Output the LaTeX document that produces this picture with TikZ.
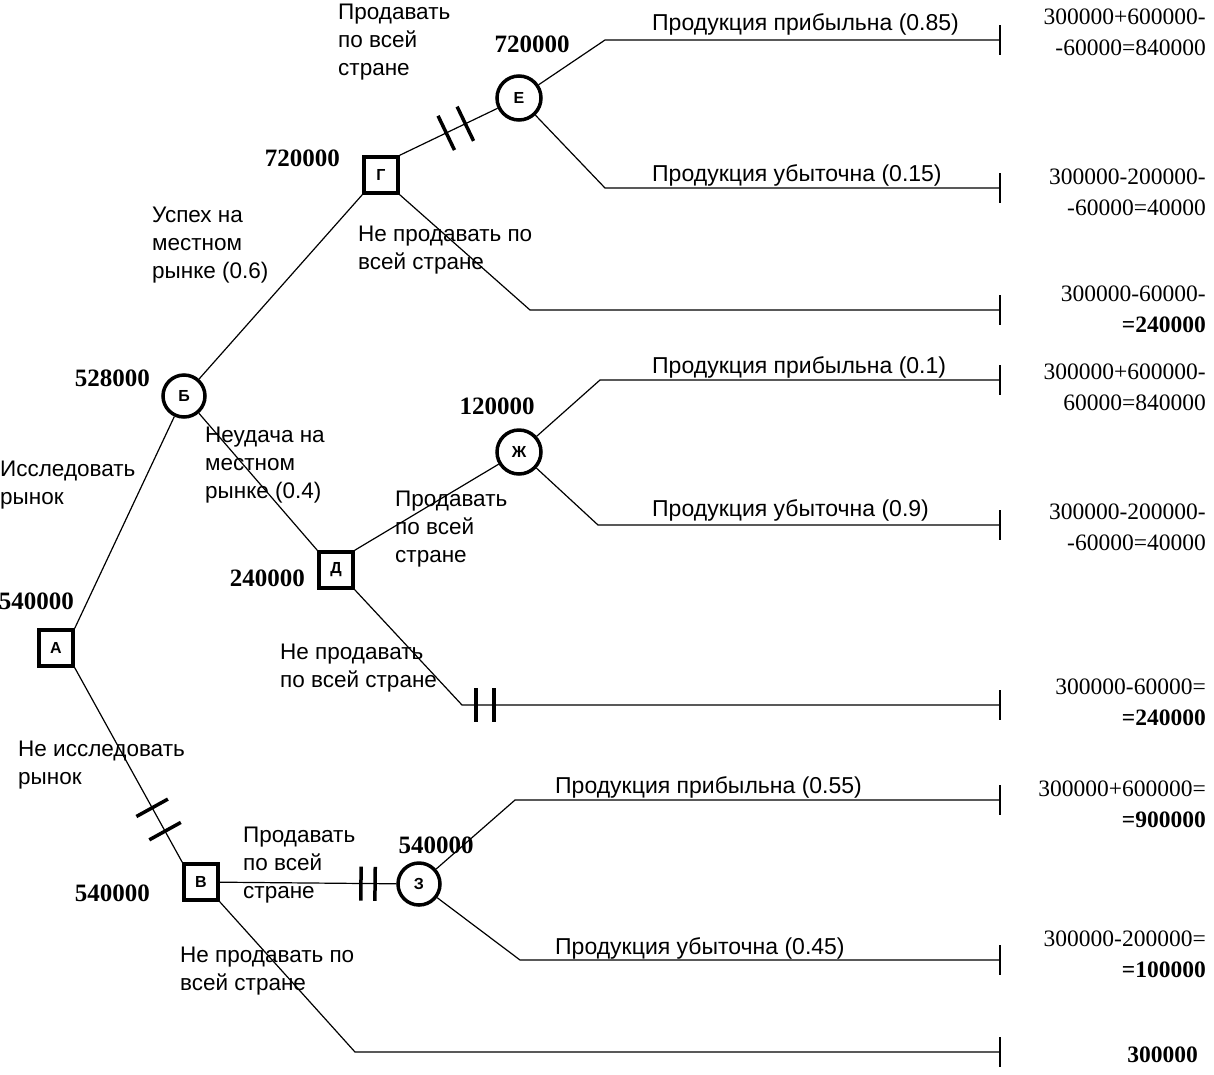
\documentclass[tikz,border=0pt]{standalone}
\usepackage{fontspec}
\setmainfont{Liberation Sans}
\newfontfamily\numfont{Liberation Serif}
\usetikzlibrary{calc}
\newcommand\brkmark[4]{%
  \path ($(#1)!#3!(#2)$) coordinate (bm);
  \draw[brk] ($(bm)!#4!90:(#2)$) -- ($(bm)!#4!-90:(#2)$);}
\begin{document}
\begin{tikzpicture}[x=1pt,y=-1pt,
  dec/.style={draw, line width=3.5pt, minimum width=34pt, minimum height=36pt, inner sep=0pt, font=\fontsize{16}{16}\selectfont\bfseries},
  chance/.style={draw, circle, line width=3.5pt, minimum size=42pt, inner sep=0pt, font=\fontsize{16}{16}\selectfont\bfseries},
  conn/.style={line width=1.2pt},
  brk/.style={line width=3.5pt},
  tick/.style={line width=1.8pt},
  lbl/.style={inner sep=0pt, align=left, font=\fontsize{22.5}{28}\selectfont},
  val/.style={inner sep=0pt, font=\numfont\bfseries\fontsize{25}{25}\selectfont},
  res/.style={inner sep=0pt, align=right, font=\numfont\fontsize{23.5}{31}\selectfont},
  outc/.style={inner sep=0pt, anchor=base west, font=\fontsize{23}{23}\selectfont}
]
\useasboundingbox (0,0) rectangle (1214,1074);

% decision and chance nodes
\node[dec] (nA) at (56,648) {А};
\node[chance] (nB) at (184,396) {Б};
\node[dec] (nG) at (381,175) {Г};
\node[chance, minimum size=44pt] (nE) at (519,98) {Е};
\node[dec] (nD) at (336,570) {Д};
\node[chance, minimum size=44pt] (nZh) at (519,452) {Ж};
\node[dec] (nV) at (201,882) {В};
\node[chance] (nZ) at (419,884) {З};

% bend and end coordinates
\coordinate (e1) at (605,40);   \coordinate (t1) at (1000,40);
\coordinate (e2) at (605,188);  \coordinate (t2) at (1000,188);
\coordinate (g3) at (530,310);  \coordinate (t3) at (1000,310);
\coordinate (z1) at (600,380);  \coordinate (t4) at (1000,380);
\coordinate (z2) at (598,525);  \coordinate (t5) at (1000,525);
\coordinate (d3) at (462,705);  \coordinate (t6) at (1000,705);
\coordinate (s1) at (515,800);  \coordinate (t7) at (1000,800);
\coordinate (s2) at (520,960);  \coordinate (t8) at (1000,960);
\coordinate (v3) at (355,1052); \coordinate (t9) at (1000,1052);

% connectors
\draw[conn] (nA.north east) -- (nB);
\draw[conn] (nB) -- (nG.south west);
\draw[conn] (nB) -- (nD.north west);
\draw[conn] (nG.north east) -- (nE);
\draw[conn] (nE) -- (e1) -- (t1);
\draw[conn] (nE) -- (e2) -- (t2);
\draw[conn] (nG.south east) -- (g3) -- (t3);
\draw[conn] (nD.north east) -- (nZh);
\draw[conn] (nZh) -- (z1) -- (t4);
\draw[conn] (nZh) -- (z2) -- (t5);
\draw[conn] (nD.south east) -- (d3) -- (t6);
\draw[conn] (nA.south east) -- (nV.north west);
\draw[conn] (nV) -- (nZ);
\draw[conn] (nZ) -- (s1) -- (t7);
\draw[conn] (nZ) -- (s2) -- (t8);
\draw[conn] (nV.south east) -- (v3) -- (t9);

% end ticks
\foreach \t in {t1,t2,t3,t4,t5,t6,t7,t8,t9}
  \draw[tick] ($(\t)+(0,-15)$) -- ($(\t)+(0,15)$);

% blocked-branch marks
\brkmark{nG.north east}{nE}{0.39}{19pt}
\brkmark{nG.north east}{nE}{0.55}{19pt}
\brkmark{nA.south east}{nV.north west}{0.72}{18pt}
\brkmark{nA.south east}{nV.north west}{0.84}{18pt}
\brkmark{nV.east}{nZ.west}{0.80}{17pt}
\brkmark{nV.east}{nZ.west}{0.88}{17pt}
\brkmark{d3}{t6}{14pt}{17pt}
\brkmark{d3}{t6}{32pt}{17pt}

% values at nodes
\node[val, anchor=east] (vA) at (74,601) {540000};
\node[val, anchor=east] (vB) at (150,378) {528000};
\node[val, anchor=east] (vG) at (340,158) {720000};
\node[val] (vE) at (532,44) {720000};
\node[val, anchor=east] (vD) at (305,578) {240000};
\node[val] (vZh) at (497,406) {120000};
\node[val, anchor=east] (vV) at (150,893) {540000};
\node[val] (vZ) at (436,845) {540000};

% branch labels
\node[lbl, anchor=north west] (l1) at (338,4) {Продавать\\по всей\\стране};
\node[lbl, anchor=north west] (l2) at (152,207) {Успех на\\местном\\рынке (0.6)};
\node[lbl, anchor=north west] (l3) at (358,226) {Не продавать по\\всей стране};
\node[lbl, anchor=north west] (l4) at (0,461) {Исследовать\\рынок};
\node[lbl, anchor=north west] (l5) at (205,427) {Неудача на\\местном\\рынке (0.4)};
\node[lbl, anchor=north west] (l6) at (395,491) {Продавать\\по всей\\стране};
\node[lbl, anchor=north west] (l7) at (280,644) {Не продавать\\по всей стране};
\node[lbl, anchor=north west] (l8) at (18,741) {Не исследовать\\рынок};
\node[lbl, anchor=north west] (l9) at (243,827) {Продавать\\по всей\\стране};
\node[lbl, anchor=north west] (l10) at (180,947) {Не продавать по\\всей стране};

% outcome labels
\node[outc] (o1) at (652,30) {Продукция прибыльна (0.85)};
\node[outc] (o2) at (652,181) {Продукция убыточна (0.15)};
\node[outc] (o3) at (652,373) {Продукция прибыльна (0.1)};
\node[outc] (o4) at (652,516) {Продукция убыточна (0.9)};
\node[outc] (o5) at (555,793) {Продукция прибыльна (0.55)};
\node[outc] (o6) at (555,954) {Продукция убыточна (0.45)};

% results
\node[res, anchor=north east] (r1) at (1206,9) {300000+600000-\\-60000=840000};
\node[res, anchor=north east] (r2) at (1206,169) {300000-200000-\\-60000=40000};
\node[res, anchor=north east] (r3) at (1206,286) {300000-60000-\\\textbf{=240000}};
\node[res, anchor=north east] (r4) at (1206,364) {300000+600000-\\60000=840000};
\node[res, anchor=north east] (r5) at (1206,504) {300000-200000-\\-60000=40000};
\node[res, anchor=north east] (r6) at (1206,679) {300000-60000=\\\textbf{=240000}};
\node[res, anchor=north east] (r7) at (1206,781) {300000+600000=\\\textbf{=900000}};
\node[res, anchor=north east] (r8) at (1206,931) {300000-200000=\\\textbf{=100000}};
\node[res, anchor=north east, font=\numfont\bfseries\fontsize{23.5}{31}\selectfont] (r9) at (1198,1047) {300000};
\end{tikzpicture}
\end{document}
